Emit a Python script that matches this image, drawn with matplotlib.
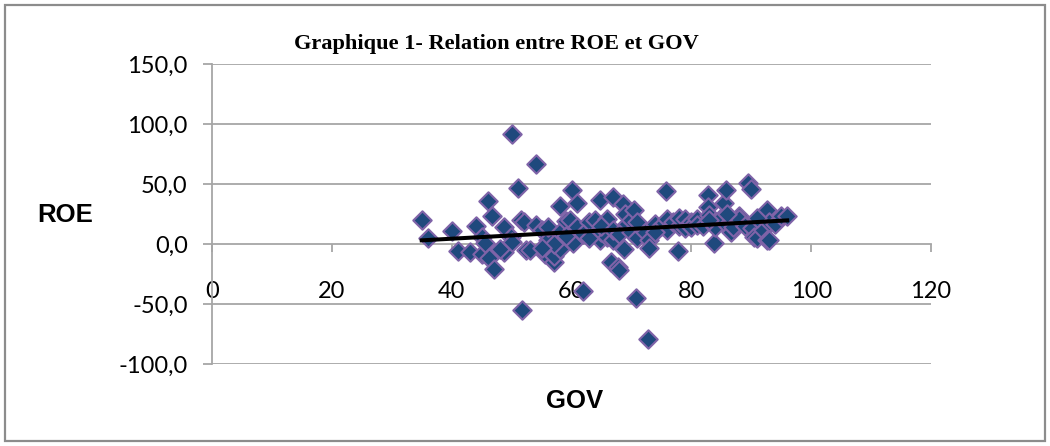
import numpy as np
import matplotlib
matplotlib.use("Agg")
import matplotlib.pyplot as plt
from matplotlib.ticker import FuncFormatter
from matplotlib.patches import Rectangle

# Data (GOV, ROE)
gov = [35, 36, 40, 41, 43, 44, 45, 45, 45.5, 46, 46.8, 46.3, 47, 48.8, 48.8, 49.9, 50, 51, 51.6, 52.4, 51.8, 48, 50,
       52, 53, 54, 54, 55, 55.5, 56, 56, 57, 57, 58, 58, 58, 59, 59.7, 60, 60.2, 61, 61, 62, 57, 59, 55,
       63, 64, 64.7, 64.7, 65, 66, 66, 67, 67, 66.6, 67.7, 68, 68.6, 68.8, 69, 69, 62, 63, 65, 67, 68, 70, 70,
       70.5, 70.8, 71, 72, 72.7, 73, 73, 74, 75, 75.8, 76, 76, 77, 77.7, 78, 78, 79, 79, 80, 80, 71, 74,
       81, 81, 82, 82.7, 82.7, 83, 83.8, 84, 84, 85, 85.5, 85.8, 86, 86.6, 87, 87, 88, 88, 89, 89.4, 90, 83, 86,
       90.2, 90.5, 91, 92, 92.7, 92.7, 93, 94, 95, 96, 91, 93]
roe = [20, 5, 11, -6, -7, 15, 6, -8, 0.5, 36, 23, -12, -21, 14, -7, 6, 92, 47, 20, -5, -55, -4, 2,
       18, -5, 67, 16, 12, -8, 3, 14, -15, -10, -4, 32, 10, 19, 20, 45, 0.5, 34, 14, -39, 0, 7, -3,
       18, 20, 37, 3, 10, 21, 6, 39, 3, -15, -19, -22, 33, -4, 15, 25, 8, 5, 15, 12, 8, 10, 20,
       28, -45, 5, 12, -79, 3, -3, 17, 15, 44, 21, 12, 18, -6, 15, 22, 21, 13, 18, 14, 18, 10,
       21, 16, 15, 41, 31, 24, 1, 18, 14, 22, 34, 45, 16, 10, 19, 14, 23, 21, 15, 51, 46, 20, 25,
       13, 6, 5, 12, 28, 3, 18, 17, 23, 23, 22, 3]

title = "Graphique 1- Relation entre ROE et GOV"
x_label = "GOV"
y_label = "ROE"
x_ticks = [0, 20, 40, 60, 80, 100, 120]
y_ticks = [-100, -50, 0, 50, 100, 150]

tick_font = "Lato"
fig = plt.figure(figsize=(10.5, 4.46), dpi=100)
W, H = 1050, 446
ax = fig.add_axes([212 / W, 1 - 364 / H, (931 - 212) / W, (364 - 64) / H])

ax.set_xlim(0, 120)
ax.set_ylim(-100, 150)
ax.set_xticks(x_ticks)
ax.set_yticks(y_ticks)
ax.yaxis.set_major_formatter(FuncFormatter(lambda v, p: f"{v:.1f}".replace(".", ",")))
ax.xaxis.set_major_formatter(FuncFormatter(lambda v, p: f"{v:.0f}"))

grid_c = "#A6A6A6"
for yv in y_ticks:
    if yv != 0:
        ax.axhline(yv, color=grid_c, lw=1.3, zorder=0)

for s in ["top", "right"]:
    ax.spines[s].set_visible(False)
ax.spines["bottom"].set_position(("data", 0))
ax.spines["bottom"].set_color(grid_c)
ax.spines["left"].set_color(grid_c)
ax.spines["bottom"].set_linewidth(1.3)
ax.spines["left"].set_linewidth(1.3)
ax.tick_params(axis="both", colors=grid_c, labelcolor="black", width=1.3,
               labelsize=17)
ax.tick_params(axis="x", length=6, pad=21)
ax.tick_params(axis="y", length=6.5, pad=11)
for lab in ax.get_xticklabels() + ax.get_yticklabels():
    lab.set_fontfamily(tick_font)

ax.scatter(gov, roe, marker="D", s=88, c="#1F497D", edgecolors="#7F63A8",
           linewidths=1.5, zorder=3)

coef = np.polyfit(gov, roe, 1)
xs = np.array([min(gov), max(gov)])
ax.plot(xs, np.polyval(coef, xs), color="black", lw=2.9, zorder=4)

fig.text(496 / W, 1 - 44 / H, title, ha="center", va="center",
         fontfamily="Liberation Serif", fontweight="bold", fontsize=16.1)
fig.text(65 / W, 1 - 215 / H, y_label, ha="center", va="center",
         fontfamily="Liberation Sans", fontweight="bold", fontsize=18.5)
fig.text(575 / W, 1 - 401 / H, x_label, ha="center", va="center",
         fontfamily="Liberation Sans", fontweight="bold", fontsize=18.5)

fig.patches.append(Rectangle((5 / W, 5 / H), 1040 / W, 436 / H, transform=fig.transFigure,
                             fill=False, edgecolor="#8C8C8C", lw=1.6))

fig.savefig("out.png", dpi=100)
